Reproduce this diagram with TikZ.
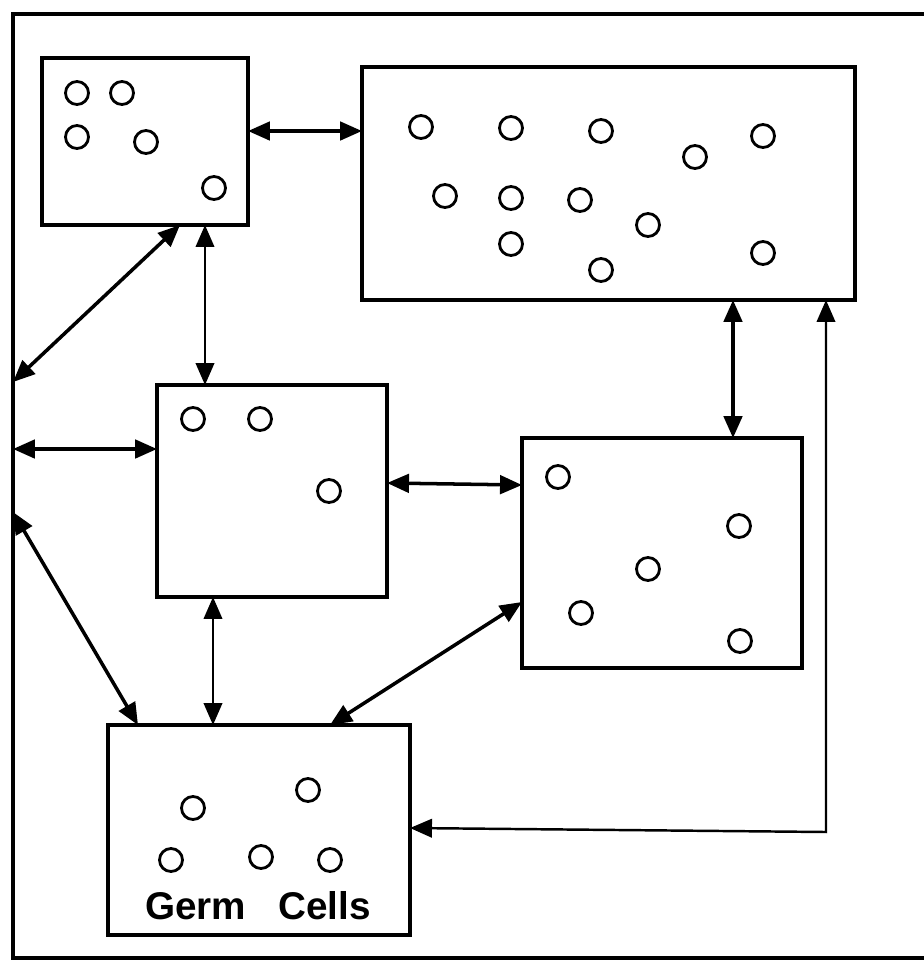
\documentclass[tikz,border=0pt]{standalone}
\usepackage{fontspec}
\setmainfont{Liberation Sans}
\usetikzlibrary{arrows.meta,fit}
\begin{document}
\begin{tikzpicture}[x=0.02cm,y=-0.02cm,
  box/.style={draw,line width=1.9pt,inner sep=0pt,outer sep=0pt},
  cell/.style={line width=1.6pt},
  dbl/.style={line width=2pt,{Triangle[length=12.5pt,width=10.5pt]}-{Triangle[length=12.5pt,width=10.5pt]}},
  thin dbl/.style={dbl,line width=1.4pt}]
\useasboundingbox (0,0) rectangle (924,975);
\fill[white] (0,0) rectangle (924,975);
% outer frame
\node[box,line width=2pt,fit={(13,14) (960,958)}] (F) {};
% boxes
\node[box,fit={(42,58) (248,225)}] (A) {};
\node[box,fit={(362,67) (855,300)}] (B) {};
\node[box,fit={(157,385) (387,597)}] (C) {};
\node[box,fit={(522,438) (802,668)}] (D) {};
\node[box,line width=2.3pt,fit={(108,725) (410,935)}] (E) {};
% cells
\foreach \p in {(77,93),(122,93),(77,137),(146,142),(214,188),
  (421,127),(511,128),(601,131),(695,157),(763,136),(445,196),(511,198),(580,200),(648,225),(511,244),(601,270),(763,253),
  (193,419),(260,419),(329,491),
  (558,477),(739,526),(648,569),(581,613),(740,641),
  (193,808),(308,790),(171,860),(261,857),(330,860)}
  \draw[cell] \p circle[radius=11.5];
\node[font=\bfseries\fontsize{22}{26}\selectfont,inner sep=0pt] (gc) at (258,906) {Germ\ \ \ Cells};
% corner of the long connector
\coordinate (k) at (826,832);
% connectors
\draw[dbl] (A.east |- 0,131) -- (B.west |- 0,131);
\draw[dbl] (A.south -| 180,0) -- (F.west |- 0,382);
\draw[thin dbl] (A.south -| 205,0) -- (C.north -| 205,0);
\draw[dbl] (F.west |- 0,449) -- (C.west |- 0,449);
\draw[dbl] (F.west |- 0,512) -- (E.north -| 138,0);
\draw[thin dbl] (C.south -| 213,0) -- (E.north -| 213,0);
\draw[dbl] (C.east |- 0,483) -- (D.west |- 0,485);
\draw[dbl] (D.west |- 0,602) -- (E.north -| 330,0);
\draw[dbl] (B.south -| 733,0) -- (D.north -| 733,0);
\draw[thin dbl] (E.east |- 0,828) -- (k) -- (B.south -| k);
\end{tikzpicture}
\end{document}
